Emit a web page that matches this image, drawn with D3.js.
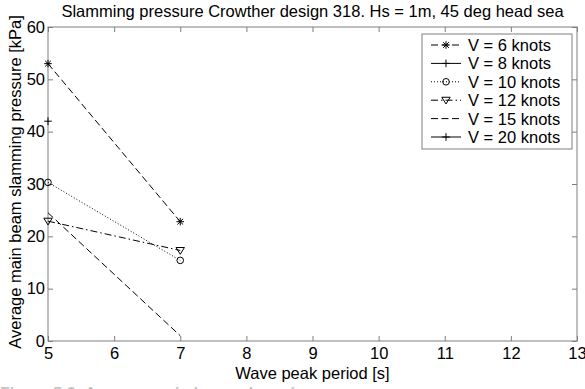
<!DOCTYPE html>
<html>
<head>
<meta charset="utf-8">
<script src="https://cdn.jsdelivr.net/npm/d3@7"></script>
<style>
  html, body { margin: 0; padding: 0; background: #fff; }
  svg { display: block; font-family: "Liberation Sans", Arial, sans-serif; }
</style>
</head>
<body>
<svg id="chart" width="585" height="389"></svg>
<script>
// Wave peak periods [s]
const periods = [5, 7];
// Average main beam slamming pressure [kPa] per ship speed (null = no value)
const v6  = [53, 22.8];
const v8  = [42, null];
const v10 = [30.3, 15.4];
const v12 = [22.9, 17.3];
const v15 = [24.5, 1.0];
const v20 = [null, null];

const seriesNames = ["V = 6 knots", "V = 8 knots", "V = 10 knots", "V = 12 knots", "V = 15 knots", "V = 20 knots"];
const xTicks = [5, 6, 7, 8, 9, 10, 11, 12, 13];
const yTicks = [0, 10, 20, 30, 40, 50, 60];

const styles = [
  { values: v6,  dash: "7,3.5",       marker: "star" },
  { values: v8,  dash: null,          marker: "plus" },
  { values: v10, dash: "1,2",         marker: "circle" },
  { values: v12, dash: "7,3,1.5,3",   marker: "tri" },
  { values: v15, dash: "7,3.5",       marker: null },
  { values: v20, dash: null,          marker: "plus" }
];

const svg = d3.select("#chart");
const pLeft = 48, pRight = 577, pTop = 27, pBottom = 341;
const fontSize = "16.5px";

const x = d3.scaleLinear().domain([5, 13]).range([pLeft, pRight]);
const y = d3.scaleLinear().domain([0, 60]).range([pBottom, pTop]);

const axisColor = "#7f7f7f";

// Plot box
svg.append("rect")
  .attr("x", pLeft).attr("y", pTop)
  .attr("width", pRight - pLeft).attr("height", pBottom - pTop)
  .attr("fill", "none").attr("stroke", axisColor).attr("stroke-width", 1);

// Axes with inward ticks on all four sides
const tickLen = 5;
const bottomAxis = svg.append("g").attr("transform", `translate(0,${pBottom})`)
  .call(d3.axisBottom(x).tickValues(xTicks).tickFormat(d3.format("d")).tickSizeInner(-tickLen).tickSizeOuter(0));
const topAxis = svg.append("g").attr("transform", `translate(0,${pTop})`)
  .call(d3.axisTop(x).tickValues(xTicks).tickFormat("").tickSizeInner(-tickLen).tickSizeOuter(0));
const leftAxis = svg.append("g").attr("transform", `translate(${pLeft},0)`)
  .call(d3.axisLeft(y).tickValues(yTicks).tickFormat(d3.format("d")).tickSizeInner(-tickLen).tickSizeOuter(0));
const rightAxis = svg.append("g").attr("transform", `translate(${pRight},0)`)
  .call(d3.axisRight(y).tickValues(yTicks).tickFormat("").tickSizeInner(-tickLen).tickSizeOuter(0));

[bottomAxis, topAxis, leftAxis, rightAxis].forEach(g => {
  g.select(".domain").remove();
  g.selectAll(".tick line").attr("stroke", axisColor);
  g.selectAll(".tick text").attr("fill", "#000").style("font-size", fontSize)
    .style("font-family", "'Liberation Sans', Arial, sans-serif");
});
bottomAxis.selectAll(".tick text").attr("dy", "0.71em").attr("y", 6);
leftAxis.selectAll(".tick text").attr("x", -3);

// Markers
function drawMarker(g, type, cx, cy) {
  const s = 3.8;
  if (type === "plus") {
    g.append("path").attr("d", `M${cx - s},${cy}H${cx + s}M${cx},${cy - s}V${cy + s}`)
      .attr("stroke", "#000").attr("stroke-width", 1).attr("fill", "none");
  } else if (type === "star") {
    const d = s * 0.75;
    g.append("path").attr("d",
      `M${cx - s},${cy}H${cx + s}M${cx},${cy - s}V${cy + s}M${cx - d},${cy - d}L${cx + d},${cy + d}M${cx - d},${cy + d}L${cx + d},${cy - d}`)
      .attr("stroke", "#000").attr("stroke-width", 1).attr("fill", "none");
  } else if (type === "circle") {
    g.append("circle").attr("cx", cx).attr("cy", cy).attr("r", 3.3)
      .attr("stroke", "#000").attr("stroke-width", 1).attr("fill", "none");
  } else if (type === "tri") {
    const r = 4.2;
    g.append("path").attr("d", `M${cx - r},${cy - r * 0.7}L${cx + r},${cy - r * 0.7}L${cx},${cy + r * 0.9}Z`)
      .attr("stroke", "#000").attr("stroke-width", 1).attr("fill", "none");
  }
}

const line = d3.line()
  .defined(d => d[1] !== null)
  .x(d => x(d[0])).y(d => y(d[1]));

const plot = svg.append("g");
styles.forEach(st => {
  const pts = periods.map((p, i) => [p, st.values[i]]);
  plot.append("path").datum(pts)
    .attr("d", line)
    .attr("fill", "none").attr("stroke", "#000").attr("stroke-width", 1)
    .attr("stroke-dasharray", st.dash);
  if (st.marker) {
    pts.filter(d => d[1] !== null).forEach(d => drawMarker(plot, st.marker, x(d[0]), y(d[1])));
  }
});

// Legend
const lg = svg.append("g");
const lgX = 422, lgY = 34, lgW = 150, lgH = 115, rowH = 18.4;
lg.append("rect").attr("x", lgX).attr("y", lgY).attr("width", lgW).attr("height", lgH)
  .attr("fill", "#fff").attr("stroke", axisColor).attr("stroke-width", 1);
seriesNames.forEach((name, i) => {
  const cy = lgY + 11 + i * rowH;
  const st = styles[i];
  lg.append("line").attr("x1", lgX + 9).attr("x2", lgX + 39).attr("y1", cy).attr("y2", cy)
    .attr("stroke", "#000").attr("stroke-width", 1).attr("stroke-dasharray", st.dash);
  if (st.marker) drawMarker(lg, st.marker, lgX + 24, cy);
  lg.append("text").attr("x", lgX + 46).attr("y", cy).attr("dy", "0.36em")
    .style("font-size", fontSize).attr("fill", "#000").text(name);
});

// Title and axis labels
svg.append("text").attr("x", (pLeft + pRight) / 2).attr("y", 17)
  .attr("text-anchor", "middle").style("font-size", fontSize).attr("fill", "#000")
  .text("Slamming pressure Crowther design 318. Hs = 1m, 45 deg head sea");
svg.append("text").attr("x", (pLeft + pRight) / 2).attr("y", 379)
  .attr("text-anchor", "middle").style("font-size", fontSize).attr("fill", "#000")
  .text("Wave peak period [s]");
svg.append("text")
  .attr("transform", `translate(21,${(pTop + pBottom) / 2 - 2}) rotate(-90)`)
  .attr("text-anchor", "middle").style("font-size", fontSize).attr("fill", "#000")
  .text("Average main beam slamming pressure [kPa]");

// Figure caption running off the bottom edge
svg.append("text").attr("x", 0).attr("y", 399)
  .style("font-size", "16px").style("font-weight", "bold").attr("fill", "#c4c4c4")
  .text("Figure 5.3: Average main beam slamming pressure");
</script>
</body>
</html>
